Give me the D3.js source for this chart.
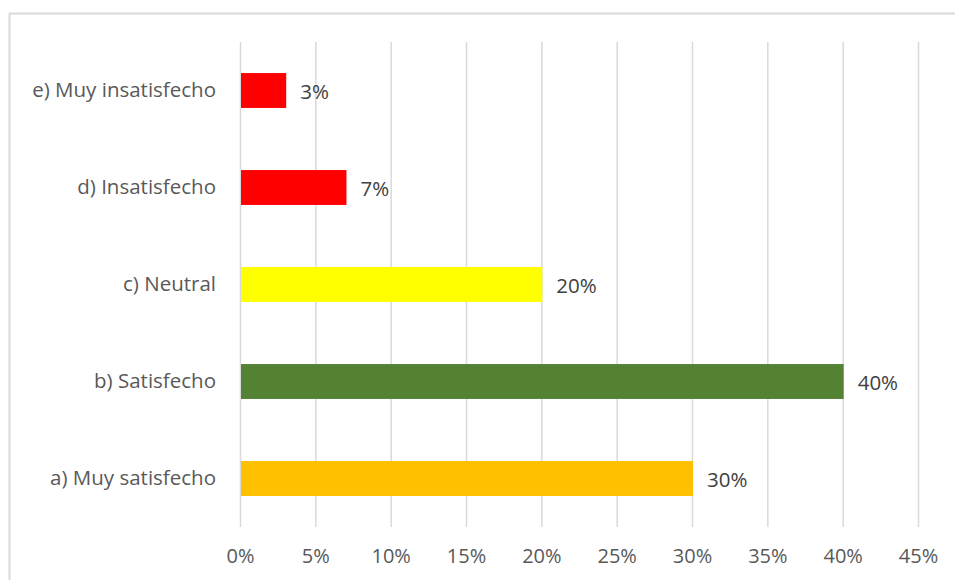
<!DOCTYPE html>
<html>
<head>
<meta charset="utf-8">
<script src="https://d3js.org/d3.v7.min.js"></script>
<style>
    body { margin: 0; background: #fff; }
    svg { display: block; font-family: "Open Sans", sans-serif; }
    .grid line { stroke: #d9d9d9; stroke-width: 1.5; }
    .grid .domain { display: none; }
    .tick text { fill: #595959; }
</style>
</head>
<body>
<div id="chart"></div>
<script>
    // Data
    const categories = ["a) Muy satisfecho", "b) Satisfecho", "c) Neutral", "d) Insatisfecho", "e) Muy insatisfecho"];
    const values = [30, 40, 20, 7, 3];
    const colors = ["#FFC000", "#548235", "#FFFF00", "#FF0000", "#FF0000"];
    const xTicks = [0, 5, 10, 15, 20, 25, 30, 35, 40, 45];

    const width = 955, height = 580;
    const margin = { left: 240, right: 37, top: 42, bottom: 53 };
    const fontFam = "'Open Sans', sans-serif";

    const svg = d3.select("#chart").append("svg")
        .attr("width", width)
        .attr("height", height);

    // chart frame
    svg.append("rect")
        .attr("x", 9.5).attr("y", 13.5)
        .attr("width", 960).attr("height", 600)
        .attr("fill", "none")
        .attr("stroke", "#d9d9d9")
        .attr("stroke-width", 2);

    const x = d3.scaleLinear()
        .domain([0, 45])
        .range([margin.left, width - margin.right]);

    const y = d3.scaleBand()
        .domain(categories.slice().reverse())
        .range([margin.top, height - margin.bottom])
        .paddingInner(0.64)
        .paddingOuter(0.32);

    // gridlines
    svg.append("g")
        .attr("class", "grid")
        .attr("transform", `translate(0,${margin.top})`)
        .call(d3.axisBottom(x).tickValues(xTicks)
            .tickSize(height - margin.bottom - margin.top).tickFormat(""));

    // x axis labels
    const xAxis = svg.append("g")
        .attr("transform", `translate(0,${height - margin.bottom})`)
        .call(d3.axisBottom(x).tickValues(xTicks).tickSize(0).tickPadding(22).tickFormat(d => d + "%"));
    xAxis.select(".domain").remove();
    xAxis.selectAll("text").attr("font-size", 20).attr("font-family", fontFam);

    // y axis labels
    const yAxis = svg.append("g")
        .attr("transform", `translate(${margin.left},0)`)
        .call(d3.axisLeft(y).tickSize(0).tickPadding(24));
    yAxis.select(".domain").remove();
    yAxis.selectAll("text").attr("font-size", 20.5).attr("font-family", fontFam);

    // bars
    svg.append("g").selectAll("rect")
        .data(categories)
        .join("rect")
        .attr("x", x(0) + 1)
        .attr("y", d => y(d))
        .attr("width", (d, i) => x(values[i]) - x(0))
        .attr("height", y.bandwidth())
        .attr("fill", (d, i) => colors[i]);

    // data labels
    svg.append("g").selectAll("text")
        .data(categories)
        .join("text")
        .attr("x", (d, i) => x(values[i]) + 15)
        .attr("y", d => y(d) + y.bandwidth() / 2)
        .attr("dy", "0.4em")
        .attr("font-size", 20.5)
        .attr("fill", "#404040")
        .text((d, i) => values[i] + "%");
</script>
</body>
</html>
